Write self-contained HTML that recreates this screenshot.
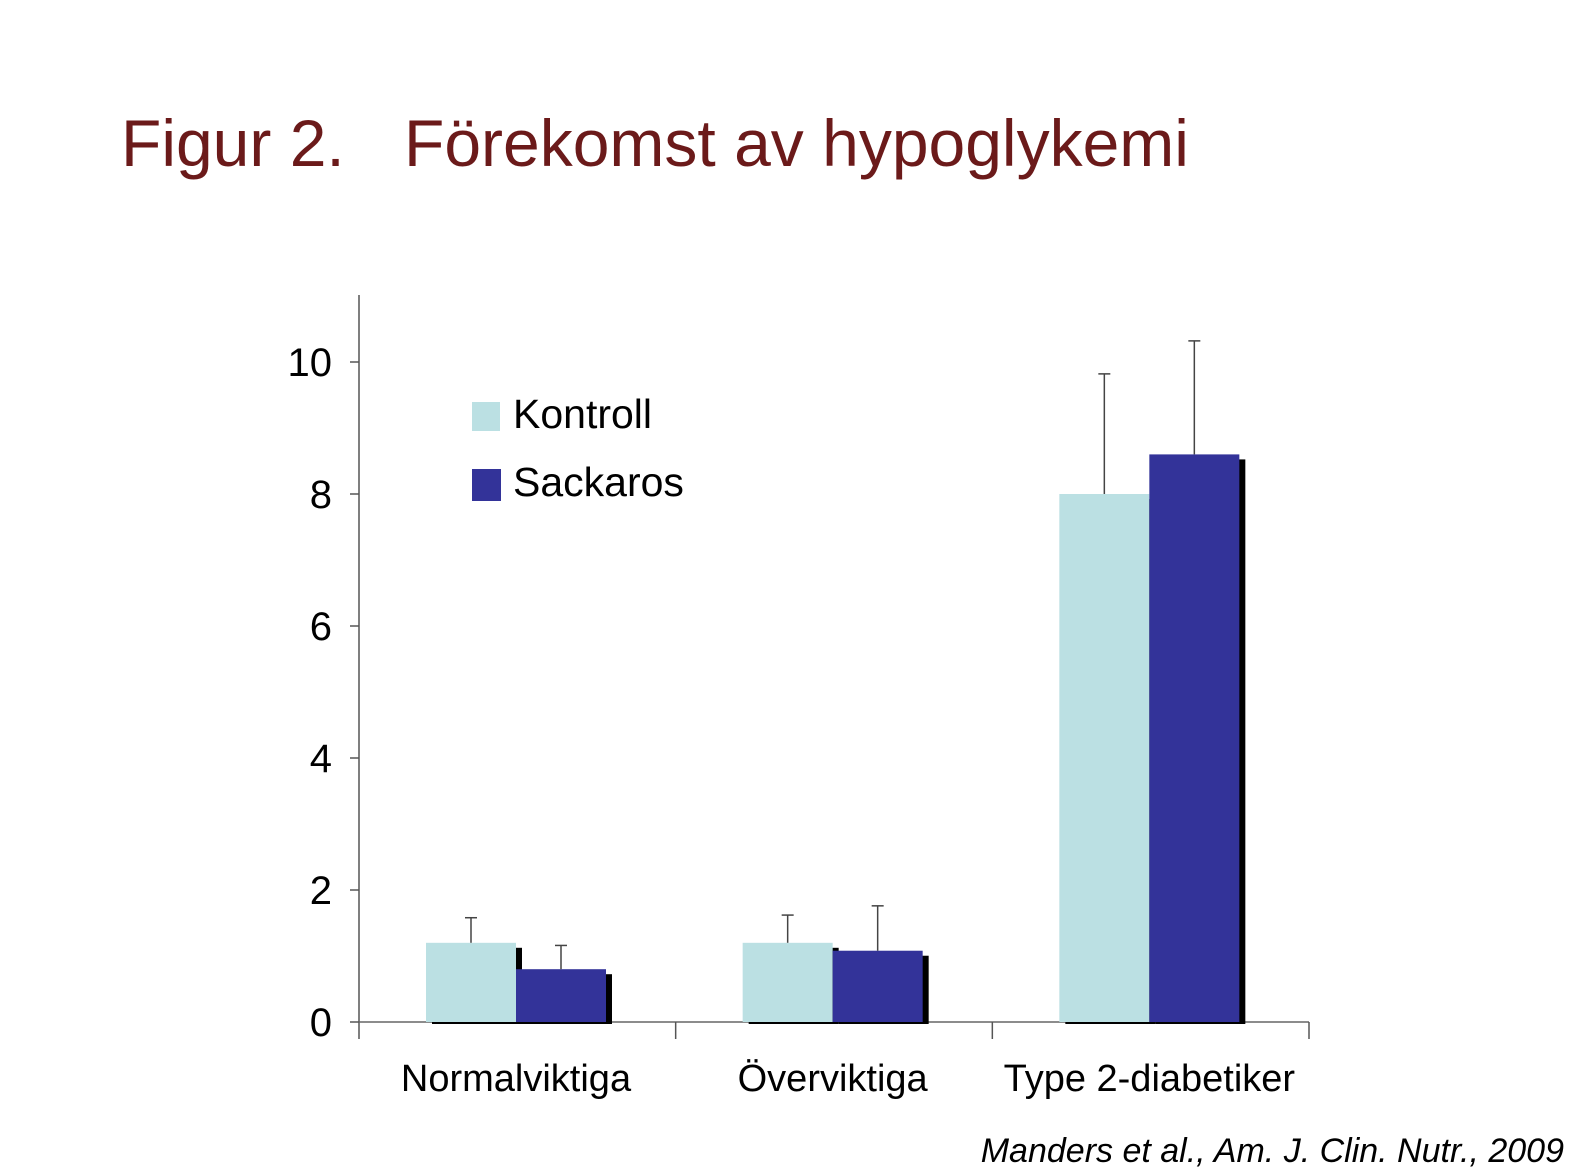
<!DOCTYPE html>
<html><head><meta charset="utf-8"><style>
html,body{margin:0;padding:0;background:#fff;}
svg{display:block;font-family:"Liberation Sans",sans-serif;}
</style></head><body>
<svg id="chart" width="1595" height="1168" viewBox="0 0 1595 1168">
<text x="121" y="166" font-size="66" fill="#6b1a1a">Figur 2.</text>
<text x="404" y="166" font-size="66" fill="#6b1a1a">Förekomst av hypoglykemi</text>
<g id="axes"></g>
<g id="bars"></g>
<g>
<rect x="472" y="402" width="28" height="29" fill="#bbe0e3"/>
<text x="513" y="428" font-size="41" fill="#000">Kontroll</text>
<rect x="472" y="469" width="29" height="32" fill="#333399"/>
<text x="513" y="496" font-size="41" fill="#000">Sackaros</text>
</g>
<text x="1564" y="1162" font-size="34" font-style="italic" text-anchor="end" fill="#000">Manders et al., Am. J. Clin. Nutr., 2009</text>
</svg>
<script>
const categories = ["Normalviktiga", "Överviktiga", "Type 2-diabetiker"];
const kontroll = [1.2, 1.2, 8.0];
const sackaros = [0.8, 1.08, 8.6];
const kontrollErr = [1.58, 1.62, 9.82];
const sackarosErr = [1.16, 1.76, 10.32];
const yTicks = [0, 2, 4, 6, 8, 10];

const NS = "http://www.w3.org/2000/svg";
const x0 = 359, x1 = 1309, yZero = 1022, pxPerUnit = 66, yTop = 295;
const groupW = (x1 - x0) / categories.length;
const barW = 90, groupPad = 67;
function y(v){ return yZero - v * pxPerUnit; }
function xGroup(i){ return x0 + i * groupW; }
function mk(tag, attrs, parent){
  const e = document.createElementNS(NS, tag);
  for (const k in attrs) e.setAttribute(k, attrs[k]);
  parent.appendChild(e);
  return e;
}
const axes = document.getElementById("axes");
const bars = document.getElementById("bars");

let el = mk("line", {x1:x0, y1:yTop, x2:x0, y2:1039, stroke:"#555", "stroke-width":1.5}, axes);


el = mk("line", {x1:x0, y1:yZero, x2:x1, y2:yZero, stroke:"#666", "stroke-width":1.5}, axes);



yTicks.forEach(t => {
  let tk = mk("line", {x1:x0-9, y1:y(t), x2:x0, y2:y(t), stroke:"#555", "stroke-width":1.5}, axes);
  
  
  let lb = mk("text", {x:332, y:y(t)+14, "font-size":40, "text-anchor":"end", fill:"#000"}, axes);
  lb.textContent = t;
  
  
});

for (let i = 1; i <= categories.length; i++) {
  let tk = mk("line", {x1:xGroup(i), y1:yZero, x2:xGroup(i), y2:1039, stroke:"#555", "stroke-width":1.5}, axes);
  
  
}

categories.forEach((c, i) => {
  const gx = xGroup(i) + groupPad;
  let lb = mk("text", {x:gx + barW, y:1091, "font-size":38, "text-anchor":"middle", fill:"#000"}, axes);
  lb.textContent = c;
  
  

  // shadows
  [[kontroll[i], gx], [sackaros[i], gx + barW]].forEach(([v, bx]) => {
    let s = mk("rect", {x:bx+6, y:y(v)+5, width:barW, height:yZero - y(v) - 3, fill:"#000"}, bars);
    
    
  });
  let b1 = mk("rect", {x:gx, y:y(kontroll[i]), width:barW, height:yZero - y(kontroll[i]), fill:"#bbe0e3"}, bars);
  
  
  let b2 = mk("rect", {x:gx+barW, y:y(sackaros[i]), width:barW, height:yZero - y(sackaros[i]), fill:"#333399"}, bars);
  
  

  [[kontroll[i], kontrollErr[i], gx + barW/2], [sackaros[i], sackarosErr[i], gx + barW*1.5]].forEach(([v, e, cx]) => {
    let l = mk("line", {x1:cx, y1:y(v), x2:cx, y2:y(e), stroke:"#444", "stroke-width":1.5}, bars);
    
    
    let cap = mk("line", {x1:cx-6, y1:y(e), x2:cx+6, y2:y(e), stroke:"#444", "stroke-width":1.5}, bars);
    
    
  });
});
</script>
</body></html>
